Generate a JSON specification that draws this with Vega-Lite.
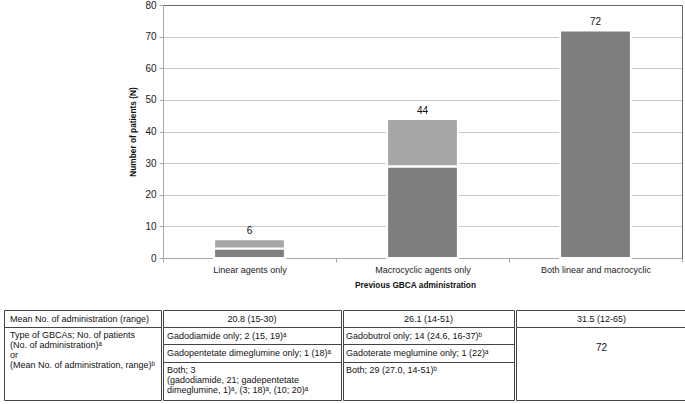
{
  "$schema": "https://vega.github.io/schema/vega-lite/v6.json",
  "padding": {"left": 3, "top": 0, "right": 0, "bottom": 0},
  "config": {
    "font": "Liberation Sans",
    "view": {"stroke": null},
    "text": {"color": "#111111"}
  },
  "datasets": {
    "patients": [
      {"category": "Linear agents only", "agents": "Multiple agents", "n": 3},
      {"category": "Linear agents only", "agents": "Single agent", "n": 3},
      {"category": "Macrocyclic agents only", "agents": "Multiple agents", "n": 29},
      {"category": "Macrocyclic agents only", "agents": "Single agent", "n": 15},
      {"category": "Both linear and macrocyclic", "agents": "Multiple agents", "n": 72}
    ],
    "cells": [
      {"id": "c1r1", "text": "Mean No. of administration (range)"},
      {"id": "c1r2", "text": "Type of GBCAs; No. of patients\n(No. of administration)ᵃ\nor\n(Mean No. of administration, range)ᵇ"},
      {"id": "c2r1", "text": "20.8 (15-30)"},
      {"id": "c2r2", "text": "Gadodiamide only; 2 (15, 19)ᵃ"},
      {"id": "c2r3", "text": "Gadopentetate dimeglumine only; 1 (18)ᵃ"},
      {"id": "c2r4", "text": "Both; 3\n(gadodiamide, 21; gadepentetate\ndimeglumine, 1)ᵃ, (3; 18)ᵃ, (10; 20)ᵃ"},
      {"id": "c3r1", "text": "26.1 (14-51)"},
      {"id": "c3r2", "text": "Gadobutrol only; 14 (24.6, 16-37)ᵇ"},
      {"id": "c3r3", "text": "Gadoterate meglumine only; 1 (22)ᵃ"},
      {"id": "c3r4", "text": "Both; 29 (27.0, 14-51)ᵇ"},
      {"id": "c4r1", "text": "31.5 (12-65)"},
      {"id": "c4r2", "text": "72"}
    ]
  },
  "spacing": 20,
  "vconcat": [
    {
      "bounds": "flush",
      "spacing": 0,
      "hconcat": [
        {"width": 159, "height": 253, "data": {"values": []}, "mark": "point", "view": {"fill": "white", "stroke": null}},
        {
          "width": 519,
          "height": 253,
          "data": {"name": "patients"},
          "encoding": {
            "x": {
              "field": "category", "type": "nominal",
              "sort": ["Linear agents only", "Macrocyclic agents only", "Both linear and macrocyclic"],
              "scale": {"paddingInner": 0, "paddingOuter": 0},
              "axis": {
                "title": "Previous GBCA administration",
                "labelAngle": 0, "labelFontSize": 9, "labelColor": "#1a1a1a",
                "domainColor": "#a8a8a8", "tickColor": "#a8a8a8", "tickBand": "extent",
                "tickSize": 4, "labelPadding": 3, "grid": false,
                "titleFontSize": 8.3, "titleFontWeight": "bold", "titleColor": "#111111",
                "titleX": 252, "titleY": 27, "titleAlign": "center", "titleBaseline": "middle"
              }
            }
          },
          "layer": [
            {
              "mark": {"type": "bar", "size": 71, "stroke": "white", "strokeWidth": 2.2},
              "encoding": {
                "y": {
                  "field": "n", "type": "quantitative", "stack": "zero",
                  "scale": {"domain": [0, 80], "nice": false},
                  "axis": {
                    "title": "Number of patients (N)", "orient": "left",
                    "values": [0, 10, 20, 30, 40, 50, 60, 70, 80],
                    "grid": true,
                    "gridColor": {"condition": {"test": "datum.value >= 80", "value": "#6b6b6b"}, "value": "#c9c9c9"},
                    "domainColor": "#a8a8a8", "tickColor": "#a8a8a8", "tickSize": 4,
                    "labelPadding": 3, "labelFontSize": 10, "labelColor": "#1a1a1a",
                    "titleFontSize": 8.3, "titleFontWeight": "bold", "titleColor": "#111111",
                    "titleX": -30, "titleY": 126.5, "titleAngle": -90,
                    "titleAlign": "center", "titleBaseline": "middle"
                  }
                },
                "color": {
                  "field": "agents", "type": "nominal",
                  "scale": {"domain": ["Multiple agents", "Single agent"], "range": ["#7f7f7f", "#a6a6a6"]},
                  "legend": null
                },
                "order": {"field": "agents", "sort": "ascending"}
              }
            },
            {
              "mark": {"type": "text", "baseline": "bottom", "dy": -3, "fontSize": 10, "color": "#111111"},
              "encoding": {
                "y": {
                  "aggregate": "sum", "field": "n", "type": "quantitative",
                  "scale": {"domain": [0, 80], "nice": false},
                  "axis": {"orient": "right", "labels": false, "ticks": false, "title": null, "grid": false, "domainColor": "#6b6b6b"}
                },
                "text": {"aggregate": "sum", "field": "n", "type": "quantitative"}
              }
            }
          ],
          "resolve": {"axis": {"y": "independent"}}
        }
      ]
    },
    {
      "spacing": 0,
      "hconcat": [
        {
          "bounds": "flush", "spacing": 0,
          "vconcat": [
            {"width": 157, "height": 17, "view": {"stroke": "#444444"}, "data": {"name": "cells"}, "transform": [{"filter": "datum.id === 'c1r1'"}],
             "mark": {"type": "text", "align": "left", "baseline": "middle", "fontSize": 9, "dx": 6},
             "encoding": {"text": {"field": "text"}, "x": {"value": 0}}},
            {"width": 157, "height": 73, "view": {"stroke": "#444444"}, "data": {"name": "cells"}, "transform": [{"filter": "datum.id === 'c1r2'"}],
             "mark": {"type": "text", "align": "left", "baseline": "top", "fontSize": 9, "lineHeight": 10, "lineBreak": "\n", "dx": 6, "dy": 4},
             "encoding": {"text": {"field": "text"}, "x": {"value": 0}, "y": {"value": 0}}}
          ]
        },
        {
          "bounds": "flush", "spacing": 0,
          "vconcat": [
            {"width": 178, "height": 17, "view": {"stroke": "#444444"}, "data": {"name": "cells"}, "transform": [{"filter": "datum.id === 'c2r1'"}],
             "mark": {"type": "text", "align": "center", "baseline": "middle", "fontSize": 9},
             "encoding": {"text": {"field": "text"}}},
            {"width": 178, "height": 17, "view": {"stroke": "#444444"}, "data": {"name": "cells"}, "transform": [{"filter": "datum.id === 'c2r2'"}],
             "mark": {"type": "text", "align": "left", "baseline": "middle", "fontSize": 9, "dx": 4},
             "encoding": {"text": {"field": "text"}, "x": {"value": 0}}},
            {"width": 178, "height": 18, "view": {"stroke": "#444444"}, "data": {"name": "cells"}, "transform": [{"filter": "datum.id === 'c2r3'"}],
             "mark": {"type": "text", "align": "left", "baseline": "middle", "fontSize": 9, "dx": 4},
             "encoding": {"text": {"field": "text"}, "x": {"value": 0}}},
            {"width": 178, "height": 38, "view": {"stroke": "#444444"}, "data": {"name": "cells"}, "transform": [{"filter": "datum.id === 'c2r4'"}],
             "mark": {"type": "text", "align": "left", "baseline": "top", "fontSize": 9, "lineHeight": 10, "lineBreak": "\n", "dx": 4, "dy": 4},
             "encoding": {"text": {"field": "text"}, "x": {"value": 0}, "y": {"value": 0}}}
          ]
        },
        {
          "bounds": "flush", "spacing": 0,
          "vconcat": [
            {"width": 171, "height": 17, "view": {"stroke": "#444444"}, "data": {"name": "cells"}, "transform": [{"filter": "datum.id === 'c3r1'"}],
             "mark": {"type": "text", "align": "center", "baseline": "middle", "fontSize": 9},
             "encoding": {"text": {"field": "text"}}},
            {"width": 171, "height": 17, "view": {"stroke": "#444444"}, "data": {"name": "cells"}, "transform": [{"filter": "datum.id === 'c3r2'"}],
             "mark": {"type": "text", "align": "left", "baseline": "middle", "fontSize": 9, "dx": 3},
             "encoding": {"text": {"field": "text"}, "x": {"value": 0}}},
            {"width": 171, "height": 18, "view": {"stroke": "#444444"}, "data": {"name": "cells"}, "transform": [{"filter": "datum.id === 'c3r3'"}],
             "mark": {"type": "text", "align": "left", "baseline": "middle", "fontSize": 9, "dx": 3},
             "encoding": {"text": {"field": "text"}, "x": {"value": 0}}},
            {"width": 171, "height": 38, "view": {"stroke": "#444444"}, "data": {"name": "cells"}, "transform": [{"filter": "datum.id === 'c3r4'"}],
             "mark": {"type": "text", "align": "left", "baseline": "top", "fontSize": 9, "dx": 3, "dy": 4},
             "encoding": {"text": {"field": "text"}, "x": {"value": 0}, "y": {"value": 0}}}
          ]
        },
        {
          "bounds": "flush", "spacing": 0,
          "vconcat": [
            {"width": 171, "height": 17, "view": {"stroke": "#444444"}, "data": {"name": "cells"}, "transform": [{"filter": "datum.id === 'c4r1'"}],
             "mark": {"type": "text", "align": "center", "baseline": "middle", "fontSize": 9},
             "encoding": {"text": {"field": "text"}}},
            {"width": 171, "height": 73, "view": {"stroke": "#444444"}, "data": {"name": "cells"}, "transform": [{"filter": "datum.id === 'c4r2'"}],
             "mark": {"type": "text", "align": "center", "baseline": "middle", "fontSize": 10, "dy": -16},
             "encoding": {"text": {"field": "text"}}}
          ]
        }
      ]
    }
  ]
}
